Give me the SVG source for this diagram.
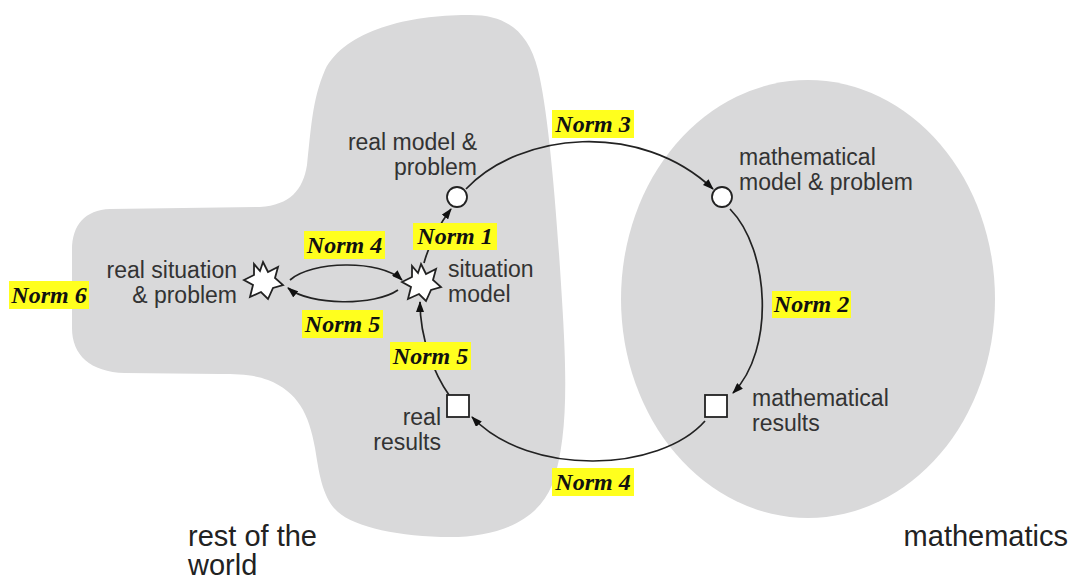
<svg xmlns="http://www.w3.org/2000/svg" width="1073" height="579" viewBox="0 0 1073 579">
<defs>
<style>
.region{fill:#d9d9da;stroke:none}
.lbl{font-family:"Liberation Sans",Arial,sans-serif;font-size:23px;fill:#333}
.big{font-family:"Liberation Sans",Arial,sans-serif;font-size:29px;fill:#222}
.normbox{fill:#ffff1e}
.norm{font-family:"Liberation Serif","Times New Roman",serif;font-weight:bold;font-style:italic;font-size:24px;fill:#111;text-anchor:middle}
.node{fill:#fff;stroke:#222;stroke-width:1.8}
.conn{fill:none;stroke:#222;stroke-width:1.7;marker-end:url(#arrow)}
</style>
<marker id="arrow" markerUnits="userSpaceOnUse" markerWidth="11" markerHeight="8" refX="10" refY="4" orient="auto">
<path d="M0,0 L11,4 L0,8 Z" fill="#111"/>
</marker>
<polygon id="star" points="0,-19 5,-9 15,-14 12,-3 20,4 10,7 5,18 -2,11 -13,16 -10,4 -19,-1 -9,-6 -9,-17 -3,-10"/>
</defs>

<g id="rest-of-world">
<path class="region" d="M467,15 C505,14 528,30 538,70 C548,110 556,200 562,300 C567,380 568,440 552,485 C538,520 500,537 450,537 C400,537 355,527 338,512 C322,498 319,472 315,448 C309,414 298,392 268,380 C255,375 240,374 220,374 L125,373 C90,372 72,355 72,328 L72,250 C72,225 85,210 110,209 L260,207 C290,205 303,190 307,165 C311,130 312,100 325,70 C345,30 410,15 467,15 Z"/>
<text class="big" x="188" y="546">rest of the</text>
<text class="big" x="188" y="575">world</text>
</g>

<g id="mathematics">
<ellipse class="region" cx="808" cy="299" rx="187" ry="219"/>
<text class="big" x="1068" y="546" text-anchor="end">mathematics</text>
</g>

<g id="connectors">
<path class="conn" d="M424,263 Q432,234 451,209"/>
<path class="conn" d="M466,189 C520,132 640,120 713,189"/>
<path class="conn" d="M730,209 C770,250 775,350 733,393"/>
<path class="conn" d="M705,421 C660,472 530,478 472,417"/>
<path class="conn" d="M449,395 C435,375 420,340 420,302"/>
<path class="conn" d="M290,280 C311,261 380,259 402,280"/>
<path class="conn" d="M398,290 C375,306 310,306 288,288"/>
</g>

<g id="real-situation">
<use href="#star" class="node" x="263" y="281"/>
<text class="lbl" x="237" y="278" text-anchor="end">real situation</text>
<text class="lbl" x="237" y="303" text-anchor="end">&amp; problem</text>
</g>

<g id="situation-model">
<use href="#star" class="node" x="421" y="283"/>
<text class="lbl" x="448" y="277">situation</text>
<text class="lbl" x="448" y="302">model</text>
</g>

<g id="real-model">
<circle class="node" cx="457" cy="197" r="10"/>
<text class="lbl" x="477" y="150" text-anchor="end">real model &amp;</text>
<text class="lbl" x="477" y="175" text-anchor="end">problem</text>
</g>

<g id="math-model">
<circle class="node" cx="722" cy="197" r="10"/>
<text class="lbl" x="739" y="165">mathematical</text>
<text class="lbl" x="739" y="190">model &amp; problem</text>
</g>

<g id="math-results">
<rect class="node" x="705" y="395" width="22" height="22"/>
<text class="lbl" x="752" y="406">mathematical</text>
<text class="lbl" x="752" y="431">results</text>
</g>

<g id="real-results">
<rect class="node" x="447" y="395" width="22" height="22"/>
<text class="lbl" x="441" y="425" text-anchor="end">real</text>
<text class="lbl" x="441" y="450" text-anchor="end">results</text>
</g>

<g id="norm3"><rect class="normbox" x="552" y="110" width="82" height="28"/><text class="norm" x="593" y="132">Norm 3</text></g>
<g id="norm1"><rect class="normbox" x="413" y="223" width="84" height="27"/><text class="norm" x="455" y="244">Norm 1</text></g>
<g id="norm4a"><rect class="normbox" x="304" y="231" width="81" height="28"/><text class="norm" x="344.5" y="253">Norm 4</text></g>
<g id="norm6"><rect class="normbox" x="9" y="281" width="80" height="28"/><text class="norm" x="49" y="303">Norm 6</text></g>
<g id="norm5a"><rect class="normbox" x="302" y="310" width="81" height="28"/><text class="norm" x="342.5" y="332">Norm 5</text></g>
<g id="norm2"><rect class="normbox" x="772" y="291" width="79" height="27"/><text class="norm" x="811.5" y="312">Norm 2</text></g>
<g id="norm5b"><rect class="normbox" x="390" y="342" width="81" height="28"/><text class="norm" x="430.5" y="364">Norm 5</text></g>
<g id="norm4b"><rect class="normbox" x="552" y="468" width="82" height="28"/><text class="norm" x="593" y="490">Norm 4</text></g>
</svg>
